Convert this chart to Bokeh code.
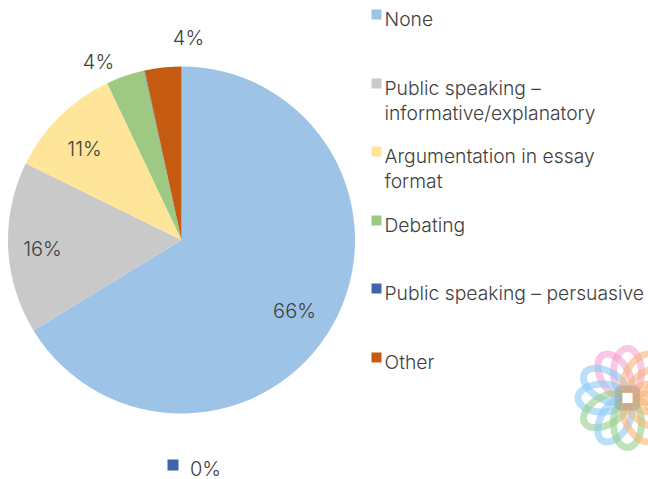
import math
from bokeh.plotting import figure
from bokeh.models import Range1d, ColumnDataSource
from bokeh.core.properties import value
from bokeh.embed import file_html
from bokeh.resources import INLINE

categories = ["None", "Public speaking \u2013\ninformative/explanatory", "Argumentation in essay\nformat",
              "Debating", "Public speaking \u2013 persuasive", "Other"]
shares = [66.3, 16.0, 10.7, 3.6, 0.05, 3.4]
labels = ["66%", "16%", "11%", "4%", "0%", "4%"]
colors = ["#9dc3e6", "#c9c9c9", "#ffe599", "#9dc983", "#3d64ad", "#c55a11"]

FONT = value("Inter Light")
INK = "#404040"
W, H = 648, 479
Y = lambda y: 479 - y

p = figure(width=W, height=H, x_range=Range1d(0, 648), y_range=Range1d(0, 479),
           output_backend="svg", toolbar_location=None, min_border=0,
           outline_line_color=None, background_fill_color="white", border_fill_color="white")
p.axis.visible = False
p.grid.visible = False

# pie
total = sum(shares)
start, a0, a1 = math.pi / 2, [], []
for s in shares:
    a0.append(start)
    start -= s / total * 2 * math.pi
    a1.append(start)
src = ColumnDataSource(dict(a0=a0, a1=a1, c=colors))
p.wedge(x=181, y=Y(239.5), radius=173.5, start_angle="a0", end_angle="a1", direction="clock",
        fill_color="c", line_color=None, source=src)

# data labels
label_xy = [(294, 310), (42, 248), (84, 148), (98, 61), (205, 468), (188, 37)]
p.text(x=[q[0] for q in label_xy], y=[Y(q[1]) for q in label_xy], text=labels, text_font=FONT,
       text_font_size="20px", text_color=INK, text_align="center", text_baseline="middle")
p.scatter(x=[172.5], y=[Y(464.5)], size=11, marker="square", fill_color=colors[4], line_color=None)

# legend
tops = [9, 78, 146, 215, 283, 352]
for cat, col, top in zip(categories, colors, tops):
    p.rect(x=[376], y=[Y(top + 5)], width=10, height=10, fill_color=col, line_color=None)
    for i, part in enumerate(cat.split("\n")):
        p.text(x=[384], y=[Y(top + 9 + i * 25)], text=[part], text_font=FONT, text_font_size="19.3px",
               text_color=INK, text_align="left", text_baseline="middle")

# logo
logo_colors = ["#f5a3d3", "#f5a3d3", "#8cc9f5", "#8cc9f5", "#93d08a", "#8cc9f5",
               "#93d08a", "#f9b578", "#f9b578", "#f9b578", "#f9b578", "#f9b578"]
for k, col in enumerate(logo_colors):
    ang = math.pi / 2 + k * math.pi / 6
    p.ellipse(x=[627 + 25 * math.cos(ang)], y=[Y(397.5) + 25 * math.sin(ang)], width=49, height=28, angle=ang,
              fill_color=None, line_color=col, line_width=7, line_alpha=0.6)
p.rect(x=[627], y=[Y(397.5)], width=18, height=18, fill_color=None, line_color="#909090", line_width=7, line_alpha=0.35)
p.rect(x=[627], y=[Y(397.5)], width=10, height=10, fill_color="white", line_color=None)

open("out.html", "w").write(file_html(p, INLINE))
